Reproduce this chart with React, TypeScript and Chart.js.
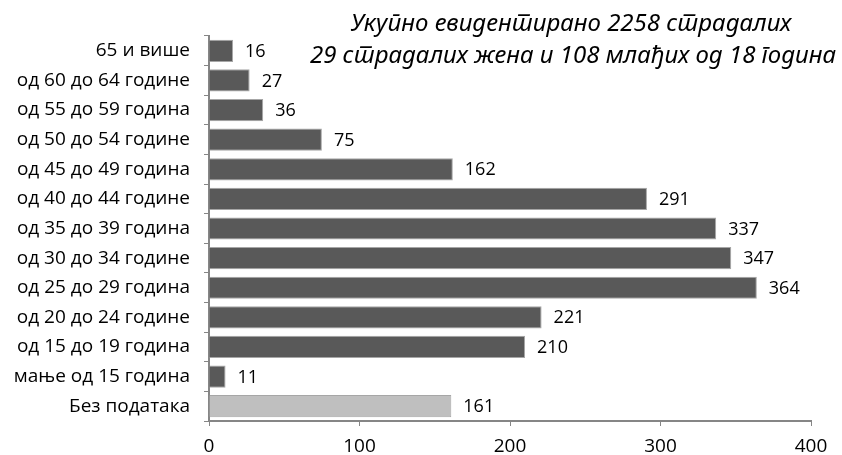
import React, { useEffect, useRef } from "react";
import { Chart, registerables } from "chart.js";

Chart.register(...registerables);

const categories = [
  "65 и више",
  "од 60 до 64 године",
  "од 55 до 59 година",
  "од 50 до 54 године",
  "од 45 до 49 година",
  "од 40 до 44 године",
  "од 35 до 39 година",
  "од 30 до 34 године",
  "од 25 до 29 година",
  "од 20 до 24 године",
  "од 15 до 19 година",
  "мање од 15 година",
  "Без података",
];

const values = [16, 27, 36, 75, 162, 291, 337, 347, 364, 221, 210, 11, 161];

const titleLines = [
  "Укупно евидентирано 2258 страдалих",
  "29 страдалих жена и 108 млађих од 18 година",
];

const xTicks = [0, 100, 200, 300, 400];

const DARK = "#595959";
const LIGHT = "#bfbfbf";
const AXIS = "#868686";
const FONT = "'Open Sans', 'Noto Sans', sans-serif";

const labelPlugin = {
  id: "valueLabels",
  afterDatasetsDraw(chart: any) {
    const ctx = chart.ctx;
    const meta = chart.getDatasetMeta(0);
    ctx.save();
    ctx.font = `18px ${FONT}`;
    ctx.fillStyle = "#000";
    ctx.textAlign = "left";
    ctx.textBaseline = "middle";
    meta.data.forEach((bar: any, i: number) => {
      ctx.fillText(String(values[i]), bar.x + 12, bar.y + 1);
    });
    ctx.restore();
  },
};

const titlePlugin = {
  id: "overlayTitle",
  afterDraw(chart: any) {
    const ctx = chart.ctx;
    ctx.save();
    try {
      (ctx as any).lang = "sr";
    } catch (e) {}
    ctx.font = `italic 24px 'Noto Sans', sans-serif`;
    ctx.fillStyle = "#000";
    ctx.textAlign = "center";
    ctx.textBaseline = "alphabetic";
    ctx.fillText(titleLines[0], 571, 31);
    ctx.fillText(titleLines[1], 573, 63);
    ctx.restore();
  },
};

export default function App() {
  const ref = useRef<HTMLCanvasElement | null>(null);

  useEffect(() => {
    document.documentElement.lang = "sr";
    const canvas = ref.current!;
    const chart = new Chart(canvas, {
      type: "bar",
      data: {
        labels: categories,
        datasets: [
          {
            data: values,
            backgroundColor: values.map((_, i) => (i === values.length - 1 ? LIGHT : DARK)),
            borderColor: "#a6a6a6",
            borderWidth: 1,
            barPercentage: 0.75,
            categoryPercentage: 1,
          },
        ],
      },
      options: {
        indexAxis: "y",
        animation: false,
        responsive: false,
        maintainAspectRatio: false,
        layout: { padding: { top: 36, right: 31, left: 0, bottom: 0 } },
        plugins: {
          legend: { display: false },
          title: { display: false },
          tooltip: { enabled: false },
        },
        scales: {
          x: {
            min: 0,
            max: 400,
            afterBuildTicks(scale: any) {
              scale.ticks = xTicks.map((v) => ({ value: v }));
            },
            afterFit(scale: any) {
              scale.height = 34;
            },
            grid: {
              drawOnChartArea: false,
              drawTicks: true,
              tickLength: 5,
              color: AXIS,
            },
            border: { display: true, color: AXIS, width: 2 },
            ticks: {
              font: { family: FONT, size: 19 },
              color: "#000",
              padding: 9,
            },
          },
          y: {
            afterFit(scale: any) {
              scale.width = 209;
            },
            grid: {
              drawOnChartArea: false,
              drawTicks: true,
              tickLength: 5,
              color: AXIS,
              offset: true,
            },
            border: { display: true, color: AXIS, width: 2 },
            ticks: {
              font: { family: FONT, size: 19 },
              color: "#000",
              padding: 14,
              autoSkip: false,
            },
          },
        },
      },
      plugins: [labelPlugin, titlePlugin],
    });
    return () => chart.destroy();
  }, []);

  return (
    <div style={{ position: "absolute", left: 0, top: 0, width: 842, height: 455 }}>
      <canvas ref={ref} lang="sr" width={842} height={455} style={{ width: 842, height: 455 }} />
    </div>
  );
}
